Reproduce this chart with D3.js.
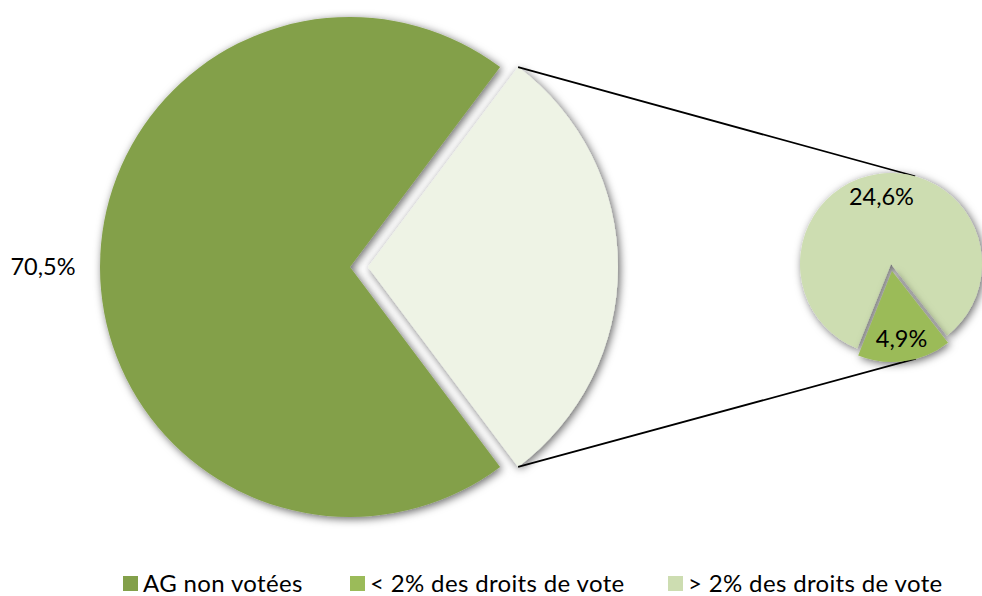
<!DOCTYPE html>
<html>
<head>
<meta charset="utf-8">
<script src="https://cdn.jsdelivr.net/npm/d3@7"></script>
<style>
  body { margin: 0; background: #fff; }
  text { font-family: Lato, "Open Sans", sans-serif; fill: #000; }
</style>
</head>
<body>
<div id="chart"></div>
<script>
// main pie: "other" slice first, then AG non votees
var mainLabels = ["Autres", "AG non votées"];
var mainValues = [29.5, 70.5];
var mainText = ["", "70,5%"];
// secondary pie (breakdown of the "other" slice)
var subLabels = ["< 2% des droits de vote", "> 2% des droits de vote"];
var subValues = [4.9, 24.6];
var subText = ["4,9%", "24,6%"];
// legend
var legendLabels = ["AG non votées", "< 2% des droits de vote", "> 2% des droits de vote"];
var legendColors = ["#83A04A", "#9BBB59", "#CDDDB1"];

var W = 982, H = 596;
var svg = d3.select("#chart").append("svg")
  .attr("width", W).attr("height", H);

var defs = svg.append("defs");
var f = defs.append("filter").attr("id", "shadow")
  .attr("x", "-20%").attr("y", "-20%").attr("width", "140%").attr("height", "140%");
f.append("feDropShadow").attr("dx", 2).attr("dy", 2).attr("stdDeviation", 4.5)
  .attr("flood-color", "#000").attr("flood-opacity", 0.6);

var deg = Math.PI / 180;

// ---- main pie
var cx = 350, cy = 267, R = 250, explode = 18;
var mainColors = ["#EEF3E5", "#83A04A"];
var otherAngle = mainValues[0] / d3.sum(mainValues) * 2 * Math.PI;
var pieMain = d3.pie().sort(null)
  .startAngle(Math.PI / 2 - otherAngle / 2)
  .endAngle(Math.PI / 2 - otherAngle / 2 + 2 * Math.PI);
var arcMain = d3.arc().innerRadius(0).outerRadius(R);
var mainArcs = pieMain(mainValues);

function offset(d, e) {
  var a = (d.startAngle + d.endAngle) / 2;
  return [e * Math.sin(a), -e * Math.cos(a)];
}

var gMain = svg.append("g").attr("transform", "translate(" + cx + "," + cy + ")");
gMain.selectAll("path").data(mainArcs).enter().append("path")
  .attr("d", arcMain)
  .attr("fill", function(d, i) { return mainColors[i]; })
  .attr("filter", "url(#shadow)")
  .attr("transform", function(d, i) {
    var o = i == 0 ? offset(d, explode) : [0, 0];
    return "translate(" + o[0] + "," + o[1] + ")";
  });

var labelArcMain = d3.arc().innerRadius(307).outerRadius(307);
gMain.selectAll("text.lbl").data(mainArcs).enter().append("text")
  .attr("class", "lbl")
  .attr("x", function(d) { return labelArcMain.centroid(d)[0]; })
  .attr("y", function(d) { return labelArcMain.centroid(d)[1]; })
  .attr("text-anchor", "middle")
  .attr("dy", "0.36em")
  .style("font-size", "23.5px")
  .text(function(d, i) { return mainText[i]; });

// ---- secondary pie
var sx = 891, sy = 264, r = 91, explode2 = 7;
var subColors = ["#9BBB59", "#CDDDB1"];
var pieSub = d3.pie().sort(null)
  .startAngle(142 * deg).endAngle(142 * deg + 2 * Math.PI);
var arcSub = d3.arc().innerRadius(0).outerRadius(r);
var subArcs = pieSub(subValues);

// connector lines: tangents from tips of the exploded slice to the secondary pie
var oMain = offset(mainArcs[0], explode);
var tipTop = [cx + oMain[0] + R * Math.sin(mainArcs[0].startAngle), cy + oMain[1] - R * Math.cos(mainArcs[0].startAngle)];
var tipBot = [cx + oMain[0] + R * Math.sin(mainArcs[0].endAngle), cy + oMain[1] - R * Math.cos(mainArcs[0].endAngle)];
function tangent(p, c, rad, sign) {
  var dx = p[0] - c[0], dy = p[1] - c[1];
  var d = Math.sqrt(dx * dx + dy * dy);
  var base = Math.atan2(dy, dx);
  var a = base + sign * Math.acos(rad / d);
  return [c[0] + rad * Math.cos(a), c[1] + rad * Math.sin(a)];
}
var oSmall = offset(subArcs[0], explode2);
var endTop = tangent(tipTop, [sx, sy], r, 1);
var endBot = tangent(tipBot, [sx + oSmall[0], sy + oSmall[1]], r, -1);
svg.append("line").attr("x1", tipTop[0]).attr("y1", tipTop[1]).attr("x2", endTop[0]).attr("y2", endTop[1])
  .attr("stroke", "#000").attr("stroke-width", 1.8);
svg.append("line").attr("x1", tipBot[0]).attr("y1", tipBot[1]).attr("x2", endBot[0]).attr("y2", endBot[1])
  .attr("stroke", "#000").attr("stroke-width", 1.8);

var gSub = svg.append("g").attr("transform", "translate(" + sx + "," + sy + ")");
// draw large slice first so the exploded small one sits on top
var subOrder = [1, 0];
subOrder.forEach(function(i) {
  var d = subArcs[i];
  var o = i == 0 ? offset(d, explode2) : [0, 0];
  gSub.append("path")
    .attr("d", arcSub(d))
    .attr("fill", subColors[i])
    .attr("filter", "url(#shadow)")
    .attr("transform", "translate(" + o[0] + "," + o[1] + ")");
});
var labelArcSub = d3.arc().innerRadius(68).outerRadius(68);
subArcs.forEach(function(d, i) {
  var c = labelArcSub.centroid(d);
  var o = i == 0 ? offset(d, explode2) : [0, 0];
  gSub.append("text")
    .attr("x", c[0] + o[0]).attr("y", c[1] + o[1])
    .attr("text-anchor", "middle").attr("dy", "0.36em")
    .style("font-size", "23.5px")
    .text(subText[i]);
});

// ---- legend
var legendX = [123, 350, 668];
var leg = svg.selectAll("g.legend").data(legendLabels).enter().append("g")
  .attr("class", "legend")
  .attr("transform", function(d, i) { return "translate(" + legendX[i] + ",576)"; });
leg.append("rect").attr("width", 15).attr("height", 15)
  .attr("fill", function(d, i) { return legendColors[i]; });
leg.append("text").attr("x", 20).attr("y", 15.5)
  .style("font-size", "24px")
  .style("letter-spacing", "0.35px")
  .text(function(d) { return d; });
</script>
</body>
</html>
